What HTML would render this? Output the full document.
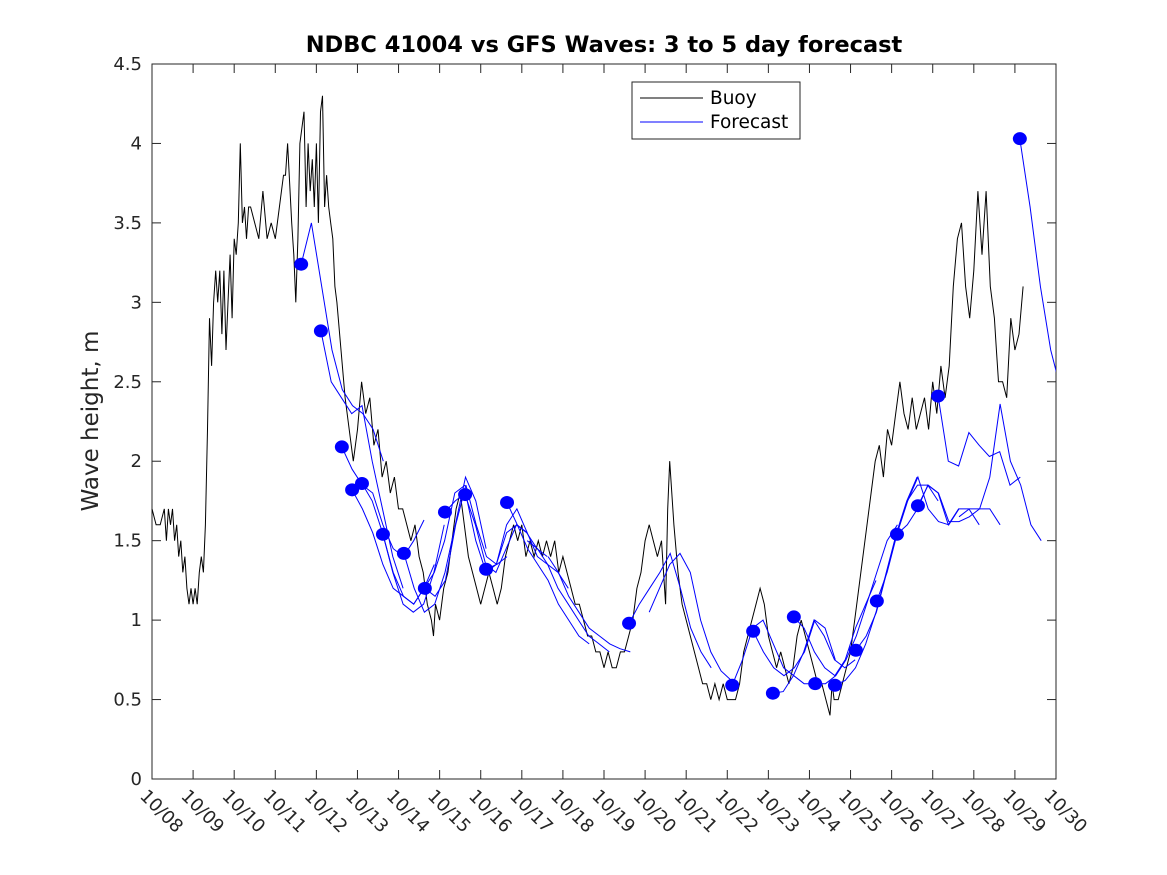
<!DOCTYPE html>
<html><head><meta charset="utf-8"><style>
body{margin:0;background:#fff}
svg{display:block;font-family:"DejaVu Sans","Liberation Sans",sans-serif}
</style></head><body>
<svg id="c" width="1167" height="875" viewBox="0 0 1167 875">
<rect x="0" y="0" width="1167" height="875" fill="#fff"/>
<text x="604" y="52" text-anchor="middle" font-size="22.5" font-weight="bold" fill="#000">NDBC 41004 vs GFS Waves: 3 to 5 day forecast</text>
<text transform="translate(98,421) rotate(-90)" text-anchor="middle" font-size="23" fill="#262626">Wave height, m</text>
<g id="axes"></g>
<g id="plot"></g>
<g>
<rect x="632" y="82" width="168" height="57" fill="#fff" stroke="#262626" stroke-width="1"/>
<line x1="640" y1="98" x2="703" y2="98" stroke="#000" stroke-width="1"/>
<text x="710" y="104" font-size="18.5" fill="#000">Buoy</text>
<line x1="640" y1="122" x2="703" y2="122" stroke="#00f" stroke-width="1"/>
<text x="710" y="128" font-size="18.5" fill="#000">Forecast</text>
</g>
</svg>
<script>
const xTickLabels=["10/08","10/09","10/10","10/11","10/12","10/13","10/14","10/15","10/16","10/17","10/18","10/19","10/20","10/21","10/22","10/23","10/24","10/25","10/26","10/27","10/28","10/29","10/30"];
const yTicks=[0,0.5,1,1.5,2,2.5,3,3.5,4,4.5];
const yTickLabels=["0","0.5","1","1.5","2","2.5","3","3.5","4","4.5"];
const buoyDays=[0,0.1,0.2,0.3,0.35,0.4,0.45,0.5,0.55,0.6,0.65,0.7,0.75,0.8,0.85,0.9,0.95,1.0,1.05,1.1,1.15,1.2,1.25,1.3,1.35,1.4,1.45,1.5,1.55,1.6,1.65,1.7,1.75,1.8,1.85,1.9,1.95,2.0,2.05,2.1,2.15,2.2,2.25,2.3,2.35,2.4,2.5,2.6,2.7,2.8,2.9,3.0,3.1,3.2,3.25,3.3,3.4,3.45,3.5,3.55,3.6,3.7,3.75,3.8,3.85,3.9,3.95,4.0,4.05,4.1,4.15,4.2,4.25,4.3,4.35,4.4,4.45,4.5,4.6,4.7,4.8,4.9,5.0,5.1,5.2,5.3,5.4,5.5,5.6,5.7,5.8,5.9,6.0,6.1,6.2,6.3,6.4,6.5,6.6,6.7,6.8,6.85,6.9,7.0,7.1,7.2,7.3,7.4,7.5,7.6,7.7,7.8,7.9,8.0,8.1,8.2,8.3,8.4,8.5,8.6,8.7,8.8,8.9,9.0,9.1,9.2,9.3,9.4,9.5,9.6,9.7,9.8,9.9,10.0,10.1,10.2,10.3,10.4,10.5,10.6,10.7,10.8,10.9,11.0,11.1,11.2,11.3,11.4,11.5,11.6,11.7,11.8,11.9,12.0,12.1,12.2,12.3,12.4,12.5,12.55,12.6,12.7,12.8,12.9,13.0,13.1,13.2,13.3,13.4,13.5,13.6,13.7,13.8,13.9,14.0,14.1,14.2,14.3,14.4,14.5,14.6,14.7,14.8,14.9,15.0,15.1,15.2,15.3,15.4,15.5,15.6,15.7,15.8,15.9,16.0,16.1,16.2,16.3,16.4,16.5,16.55,16.6,16.7,16.8,16.9,17.0,17.1,17.2,17.3,17.4,17.5,17.6,17.7,17.8,17.9,18.0,18.1,18.2,18.3,18.4,18.5,18.6,18.7,18.8,18.9,19.0,19.1,19.2,19.3,19.4,19.5,19.6,19.7,19.8,19.9,20.0,20.1,20.2,20.3,20.4,20.5,20.55,20.6,20.7,20.8,20.9,21.0,21.1,21.2,21.3,21.4,21.45,21.5,21.55];
const buoyVals=[1.7,1.6,1.6,1.7,1.5,1.7,1.6,1.7,1.5,1.6,1.4,1.5,1.3,1.4,1.2,1.1,1.2,1.1,1.2,1.1,1.3,1.4,1.3,1.6,2.2,2.9,2.6,3.0,3.2,3.0,3.2,2.8,3.2,2.7,3.0,3.3,2.9,3.4,3.3,3.5,4.0,3.5,3.6,3.4,3.6,3.6,3.5,3.4,3.7,3.4,3.5,3.4,3.6,3.8,3.8,4.0,3.5,3.3,3.0,3.4,4.0,4.2,3.6,4.0,3.7,3.9,3.6,4.0,3.5,4.2,4.3,3.6,3.8,3.6,3.5,3.4,3.1,3.0,2.7,2.4,2.2,2.0,2.2,2.5,2.3,2.4,2.1,2.2,1.9,2.0,1.8,1.9,1.7,1.7,1.6,1.5,1.6,1.4,1.3,1.1,1.0,0.9,1.1,1.0,1.2,1.3,1.5,1.7,1.8,1.6,1.4,1.3,1.2,1.1,1.2,1.3,1.2,1.1,1.2,1.4,1.5,1.6,1.5,1.6,1.4,1.5,1.4,1.5,1.4,1.5,1.4,1.5,1.3,1.4,1.3,1.2,1.1,1.1,1.0,0.9,0.9,0.8,0.8,0.7,0.8,0.7,0.7,0.8,0.8,0.9,1.0,1.2,1.3,1.5,1.6,1.5,1.4,1.5,1.1,1.7,2.0,1.6,1.3,1.1,1.0,0.9,0.8,0.7,0.6,0.6,0.5,0.6,0.5,0.6,0.5,0.5,0.5,0.6,0.8,0.9,1.0,1.1,1.2,1.1,0.9,0.8,0.7,0.8,0.7,0.6,0.7,0.9,1.0,0.9,0.8,0.7,0.6,0.6,0.5,0.4,0.6,0.5,0.5,0.6,0.7,0.8,1.0,1.2,1.4,1.6,1.8,2.0,2.1,1.9,2.2,2.1,2.3,2.5,2.3,2.2,2.4,2.2,2.3,2.4,2.2,2.5,2.3,2.6,2.4,2.6,3.1,3.4,3.5,3.1,2.9,3.2,3.7,3.3,3.7,3.1,2.9,2.7,2.5,2.5,2.4,2.9,2.7,2.8,3.1];
const runStarts=[3.63,4.11,4.62,4.87,5.11,5.62,6.13,6.64,7.13,7.62,8.13,8.64,9.13,9.64,11.61,12.1,14.12,14.63,15.11,15.62,16.14,16.62,17.13,17.64,18.13,18.64,19.13,19.64,21.12];
const runHasDot=[1,1,1,1,1,1,1,1,1,1,1,1,0,0,1,0,1,1,1,1,1,1,1,1,1,1,1,0,1];
const runVals=[
[3.24,3.5,3.1,2.7,2.45,2.35,2.3,2.2,2.0],
[2.82,2.5,2.4,2.3,2.35,2.0,1.7,1.4,1.2],
[2.09,1.95,1.85,1.8,1.6,1.45,1.4,1.5,1.63],
[1.82,1.7,1.55,1.35,1.2,1.15,1.1,1.2,1.35],
[1.86,1.75,1.55,1.3,1.1,1.05,1.1,1.3,1.6],
[1.54,1.3,1.15,1.1,1.2,1.3,1.5,1.8,1.85],
[1.42,1.2,1.05,1.1,1.3,1.6,1.9,1.75,1.45],
[1.2,1.15,1.25,1.6,1.85,1.6,1.4,1.35,1.4],
[1.68,1.75,1.8,1.5,1.3,1.35,1.55,1.6,1.55],
[1.79,1.6,1.35,1.3,1.45,1.6,1.55,1.45,1.4],
[1.32,1.35,1.6,1.7,1.55,1.4,1.35,1.3,1.2],
[1.74,1.6,1.45,1.35,1.25,1.1,1.0,0.9,0.85],
[1.5,1.45,1.35,1.2,1.1,1.0,0.9,0.85,0.8],
[1.4,1.3,1.15,1.05,0.95,0.9,0.85,0.82,0.8],
[0.98,1.1,1.2,1.3,1.42,1.2,0.95,0.8,0.7],
[1.05,1.2,1.35,1.42,1.3,1.0,0.8,0.68,0.62],
[0.59,0.75,0.95,1.0,0.85,0.7,0.65,0.6,0.6],
[0.93,0.8,0.7,0.65,0.7,0.8,1.0,0.95,0.75],
[0.54,0.55,0.65,0.8,1.0,0.9,0.75,0.7,0.75],
[1.02,0.95,0.8,0.7,0.65,0.75,0.95,1.1,1.25],
[0.60,0.6,0.65,0.75,0.9,1.1,1.3,1.5,1.6],
[0.59,0.62,0.7,0.85,1.05,1.3,1.55,1.75,1.9],
[0.81,0.9,1.05,1.3,1.55,1.75,1.85,1.85,1.75],
[1.12,1.3,1.55,1.75,1.9,1.7,1.62,1.6,1.7],
[1.54,1.6,1.7,1.85,1.8,1.6,1.7,1.7,1.6],
[1.72,1.85,1.8,1.62,1.62,1.65,1.7,1.7,1.6],
[2.41,2.0,1.97,2.18,2.1,2.03,2.06,1.85,1.9],
[1.65,1.7,1.7,1.9,2.36,2.0,1.85,1.6,1.5],
[4.03,3.6,3.1,2.7,2.45]
];
const L=152,R=1056,T=64,B=779,XMAX=22,YMAX=4.5;
function xs(d){return L+(R-L)*d/XMAX;}
function ys(v){return B-(B-T)*v/YMAX;}
const NS="http://www.w3.org/2000/svg";
function mk(tag,attrs,parent){const e=document.createElementNS(NS,tag);for(const k in attrs)e.setAttribute(k,attrs[k]);parent.appendChild(e);return e;}
const axes=document.getElementById('axes'),plot=document.getElementById('plot');
let e=mk('rect',{x:L,y:T,width:R-L,height:B-T,fill:'none',stroke:'#262626','stroke-width':1},axes);


xTickLabels.forEach((lab,i)=>{const x=xs(i);
 let t=mk('line',{x1:x,y1:B,x2:x,y2:B-9,stroke:'#262626'},axes);
 
 
 let t2=mk('line',{x1:x,y1:T,x2:x,y2:T+9,stroke:'#262626'},axes);
 
 
 let tx=mk('text',{transform:`translate(${x-13},${B+18}) rotate(45)`,'font-size':18,fill:'#262626'},axes);
 tx.textContent=lab;
 
 
});
yTicks.forEach((v,i)=>{const y=ys(v);
 let t=mk('line',{x1:L,y1:y,x2:L+9,y2:y,stroke:'#262626'},axes);
 
 
 let t2=mk('line',{x1:R,y1:y,x2:R-9,y2:y,stroke:'#262626'},axes);
 
 
 let tx=mk('text',{x:L-10,y:y+6,'text-anchor':'end','font-size':18,fill:'#262626'},axes);
 tx.textContent=yTickLabels[i];
 
 
});
let bp=buoyDays.map((d,i)=>xs(d).toFixed(1)+','+ys(buoyVals[i]).toFixed(1)).join(' ');
let bl=mk('polyline',{points:bp,fill:'none',stroke:'#000','stroke-width':1},plot);


const cp=mk('clipPath',{id:'clip'},plot);mk('rect',{x:L,y:T,width:R-L,height:B-T},cp);
runVals.forEach((vals,i)=>{const s=runStarts[i];
 let pts=vals.map((v,j)=>xs(s+j*0.25).toFixed(1)+','+ys(v).toFixed(1)).join(' ');
 let pl=mk('polyline',{points:pts,fill:'none',stroke:'#00f','stroke-width':1,'clip-path':'url(#clip)'},plot);
 
 
});
runVals.forEach((vals,i)=>{if(!runHasDot[i])return;
 let c=mk('ellipse',{cx:xs(runStarts[i]),cy:ys(vals[0]),rx:7,ry:6.5,fill:'#00f'},plot);
 
 
});
</script>
</body></html>
